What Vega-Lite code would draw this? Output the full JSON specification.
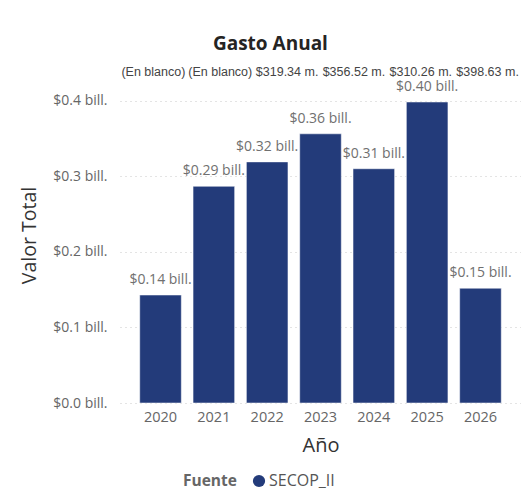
{
  "$schema": "https://vega.github.io/schema/vega-lite/v6.json",
  "autosize": {"type": "none"},
  "width": 401,
  "height": 336,
  "padding": {"left": 120, "top": 67, "right": 0, "bottom": 96},
  "background": "white",
  "title": {
    "text": "Gasto Anual",
    "anchor": "middle",
    "frame": "bounds",
    "font": "Open Sans",
    "fontSize": 19,
    "fontWeight": "bold",
    "color": "#252423",
    "offset": 12
  },
  "config": {
    "view": {"stroke": null},
    "font": "Open Sans"
  },
  "datasets": {
    "gasto": [
      {"anio": "2020", "valor": 0.143, "etiqueta": "$0.14 bill.", "fuente": "SECOP_II"},
      {"anio": "2021", "valor": 0.287, "etiqueta": "$0.29 bill.", "fuente": "SECOP_II"},
      {"anio": "2022", "valor": 0.31934, "etiqueta": "$0.32 bill.", "fuente": "SECOP_II"},
      {"anio": "2023", "valor": 0.35652, "etiqueta": "$0.36 bill.", "fuente": "SECOP_II"},
      {"anio": "2024", "valor": 0.31026, "etiqueta": "$0.31 bill.", "fuente": "SECOP_II"},
      {"anio": "2025", "valor": 0.39863, "etiqueta": "$0.40 bill.", "fuente": "SECOP_II"},
      {"anio": "2026", "valor": 0.152, "etiqueta": "$0.15 bill.", "fuente": "SECOP_II"}
    ],
    "superior": [
      {"orden": 1, "texto": "(En blanco)"},
      {"orden": 2, "texto": "(En blanco)"},
      {"orden": 3, "texto": "$319.34 m."},
      {"orden": 4, "texto": "$356.52 m."},
      {"orden": 5, "texto": "$310.26 m."},
      {"orden": 6, "texto": "$398.63 m."}
    ]
  },
  "layer": [
    {
      "data": {"name": "gasto"},
      "encoding": {
        "x": {
          "field": "anio",
          "type": "ordinal",
          "scale": {"paddingInner": 0.22, "paddingOuter": 0.37},
          "axis": {
            "title": "Año",
            "titleFont": "Open Sans",
            "titleFontSize": 20,
            "titleFontWeight": "normal",
            "titleColor": "#333333",
            "titlePadding": 12,
            "labelAngle": 0,
            "labelFont": "Open Sans",
            "labelFontSize": 14.5,
            "labelColor": "#666666",
            "labelPadding": 7,
            "ticks": false,
            "domain": false,
            "grid": false
          }
        },
        "y": {
          "field": "valor",
          "type": "quantitative",
          "scale": {"domain": [0, 0.445], "nice": false},
          "axis": {
            "title": "Valor Total",
            "titleFont": "Open Sans",
            "titleFontSize": 19.5,
            "titleFontWeight": "normal",
            "titleColor": "#333333",
            "titlePadding": 13,
            "values": [0, 0.1, 0.2, 0.3, 0.4],
            "labelExpr": "'$' + format(datum.value, '.1f') + ' bill.'",
            "labelFont": "Open Sans",
            "labelFontSize": 14,
            "labelColor": "#666666",
            "labelPadding": 13,
            "ticks": false,
            "domain": false,
            "grid": true,
            "gridColor": "#c8c8c8",
            "gridDash": [1, 4],
            "gridWidth": 1
          }
        }
      },
      "layer": [
        {
          "mark": {"type": "bar", "stroke": "#ffffff", "strokeWidth": 0.5},
          "encoding": {
            "color": {
              "field": "fuente",
              "type": "nominal",
              "scale": {"range": ["#233b7a"]},
              "legend": {
                "title": "Fuente",
                "orient": "none",
                "legendX": 63,
                "legendY": 406,
                "direction": "horizontal",
                "titleOrient": "left",
                "titleFont": "Open Sans",
                "titleFontSize": 15.5,
                "titleFontWeight": "bold",
                "titleColor": "#666666",
                "titlePadding": 14,
                "labelFont": "Open Sans",
                "labelFontSize": 16,
                "labelColor": "#555555",
                "labelOffset": 2,
                "symbolType": "circle",
                "symbolSize": 150,
                "symbolStrokeWidth": 0
              }
            }
          }
        },
        {
          "mark": {
            "type": "text",
            "baseline": "bottom",
            "dy": -8,
            "font": "Open Sans",
            "fontSize": 14,
            "color": "#707070"
          },
          "encoding": {
            "text": {"field": "etiqueta"}
          }
        }
      ]
    },
    {
      "data": {"name": "superior"},
      "mark": {
        "type": "text",
        "baseline": "middle",
        "font": "Liberation Sans",
        "fontSize": 12.5,
        "color": "#444444"
      },
      "encoding": {
        "x": {
          "field": "orden",
          "type": "ordinal",
          "scale": {"type": "point", "padding": 0.5},
          "axis": null
        },
        "y": {"datum": 0.438, "type": "quantitative"},
        "text": {"field": "texto"}
      }
    }
  ],
  "resolve": {"scale": {"x": "independent"}}
}
